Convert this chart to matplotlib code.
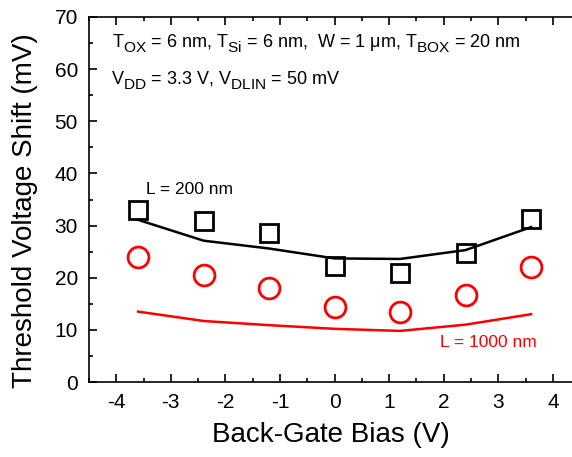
import numpy as np
import matplotlib.pyplot as plt
import matplotlib._mathtext as mt
from matplotlib.ticker import MultipleLocator

plt.rcParams['font.family'] = ['Liberation Sans', 'DejaVu Sans']
plt.rcParams['mathtext.fontset'] = 'custom'
plt.rcParams['mathtext.rm'] = 'Liberation Sans'
plt.rcParams['mathtext.it'] = 'Liberation Sans'
plt.rcParams['axes.unicode_minus'] = False
# subscripts in the original are nearly full size and sit lower
mt.SHRINK_FACTOR = 0.85
mt.FontConstantsBase.sub1 = 0.55
mt.FontConstantsBase.subdrop = 0.6

# Back-gate bias (V)
vbg = [-3.6, -2.4, -1.2, 0.0, 1.2, 2.4, 3.6]

# L = 200 nm: measured (squares) and simulated (line)
meas_200 = [32.9, 30.9, 28.6, 22.3, 21.0, 24.7, 31.3]
sim_200 = [31.1, 27.1, 25.6, 23.7, 23.6, 25.3, 29.7]

# L = 1000 nm: measured (circles) and simulated (line)
meas_1000 = [24.0, 20.6, 18.0, 14.4, 13.4, 16.7, 22.0]
sim_1000 = [13.5, 11.7, 10.9, 10.2, 9.8, 11.0, 13.0]

fig = plt.figure(figsize=(5.72, 4.57), dpi=100)
ax = fig.add_axes([89 / 572, 1 - 382 / 457, 1 - 89 / 572, 365 / 457])

ax.plot(vbg, sim_200, c='k', lw=1.8)
ax.plot(vbg, sim_1000, c='red', lw=1.8)
ax.plot(vbg, meas_200, ls='none', marker='s', ms=13, mfc='none',
        mec='k', mew=2)
ax.plot(vbg, meas_1000, ls='none', marker='o', ms=15, mfc='none',
        mec='red', mew=2)

ax.text(-3.45, 37, 'L = 200 nm', fontsize=12.5, ha='left', va='center')
ax.text(1.93, 7.5, 'L = 1000 nm', fontsize=12.5, color='red',
        ha='left', va='center')

ax.text(-4.08, 64.8, r'T$_{\mathrm{OX}}$ = 6 nm, T$_{\mathrm{Si}}$ = 6 nm,  '
        r'W = 1 $\mathrm{\mu}$m, T$_{\mathrm{BOX}}$ = 20 nm',
        fontsize=13, ha='left', va='center')
ax.text(-4.1, 57.8, r'V$_{\mathrm{DD}}$ = 3.3 V, V$_{\mathrm{DLIN}}$ = 50 mV',
        fontsize=13, ha='left', va='center')

ax.set_xlim(-4.5, 4.35)
ax.set_ylim(0, 70)
ax.xaxis.set_major_locator(MultipleLocator(1))
ax.xaxis.set_minor_locator(MultipleLocator(0.5))
ax.yaxis.set_major_locator(MultipleLocator(10))
ax.yaxis.set_minor_locator(MultipleLocator(5))
ax.tick_params(which='both', direction='in', top=True, right=False,
               labelsize=15, width=1.2)
ax.tick_params(which='major', length=6, pad=8)
ax.tick_params(which='minor', length=3)
ax.spines['right'].set_visible(False)
for s in ['left', 'bottom', 'top']:
    ax.spines[s].set_linewidth(1.2)

ax.set_xlabel('Back-Gate Bias (V)', fontsize=20, labelpad=7)
ax.set_ylabel('Threshold Voltage Shift (mV)', fontsize=20)
ax.yaxis.set_label_coords(-0.105, 0.47)

fig.savefig('out.png', dpi=100)
